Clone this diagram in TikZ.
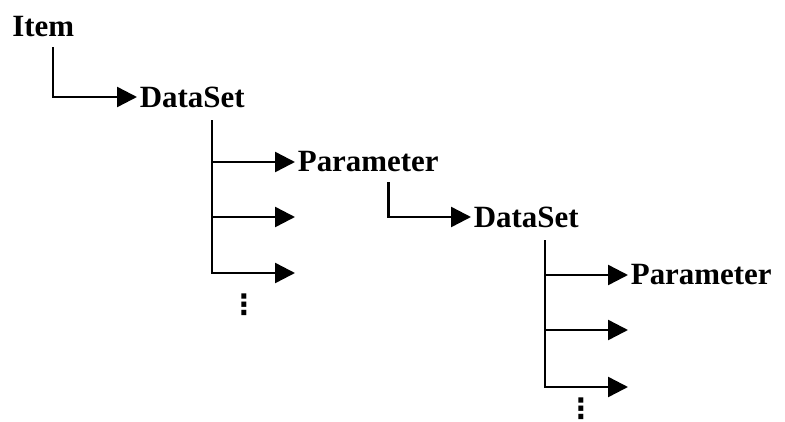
\documentclass[tikz,border=0pt]{standalone}
\usepackage{fontspec}
\setmainfont{Liberation Serif}
\newfontfamily\symfont{DejaVu Sans}
\usetikzlibrary{arrows.meta}
\tikzset{
	lvl/.style={anchor=west, inner sep=0.05cm, font=\bfseries\fontsize{17.6}{21}\selectfont},
	trunk/.style={line width=1.4pt},
	branch/.style={trunk, -{Triangle[length=0.4cm,width=0.4cm]}},
	more/.style={anchor=base, inner sep=0, text depth=0pt, font=\symfont\bfseries\fontsize{16}{18}\selectfont}
}
\begin{document}
\begin{tikzpicture}
	\useasboundingbox (0,0) rectangle (15.7,8.42);
	
	\node[lvl, anchor=base west, inner sep=0] (item) at (0.24,7.70) {Item};
	\node[lvl] (ds1) at (2.74,6.48) {DataSet};
	\node[lvl] (par1) at (5.90,5.18) {Parameter};
	\node[lvl] (ds2) at (9.42,4.08) {DataSet};
	\node[lvl] (par2) at (12.56,2.92) {Parameter};
	
	\coordinate (t0) at (1.06,7.48);
	\coordinate (t1) at (4.24,6.02);
	\coordinate (t2) at (7.77,4.78);
	\coordinate (t3) at (10.90,3.62);
	
	\coordinate (e1) at (5.90,4.08);
	\coordinate (e2) at (5.90,2.96);
	\coordinate (e3) at (12.56,1.82);
	\coordinate (e4) at (12.56,0.68);
	
	\draw[branch] (t0) |- (ds1.west);
	\draw[branch] (t1) |- (par1.west);
	\draw[branch] (t1) |- (e1);
	\draw[branch] (t1) |- (e2);
	\draw[branch] (t2) |- (ds2.west);
	\draw[branch] (t3) |- (par2.west);
	\draw[branch] (t3) |- (e3);
	\draw[branch] (t3) |- (e4);
	
	\node[more] (dots1) at (4.88,2.14) {⋮};
	\node[more] (dots2) at (11.62,0.05) {⋮};
\end{tikzpicture}
\end{document}
